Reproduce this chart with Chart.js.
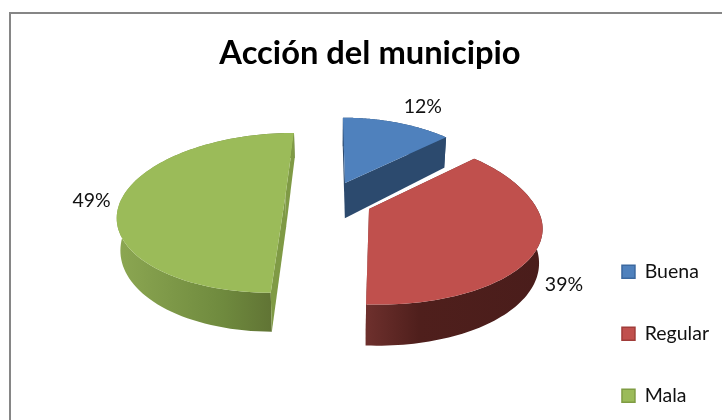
<!DOCTYPE html>
<html><head><meta charset="utf-8">
<style>html,body{margin:0;padding:0;background:#fff}canvas{display:block}</style>
<script src="https://cdn.jsdelivr.net/npm/chart.js@4"></script>
</head><body><canvas id="c" width="722" height="420"></canvas>
<script>
const categories = ["Buena", "Regular", "Mala"];
const values = [12.4, 38.5, 49.1];
const topColors = ["#4f81bd", "#c0504d", "#9bbb59"];
const edgeColors = ["#3b689f", "#a03c39", "#7f9c43"];

// perspective view of the tilted pie
const view = {x0:334, yh:-159, rX:.457};
const slices = [
  {X:.0322, q:.002924, rq:.00069, rqFront:.00066, da:0, db:.08, dy:1.103, cut:"#2c4a6e", wall:[["#2c4a6e",0],["#2c4a6e",1]]},
  {X:.0951, q:.002717, rq:.00066, rqFront:.00056, da:.08, db:0, dy:1.0886, cut:"#6a2e2b", wall:[["#6e302d",0],["#4f1f1c",.3],["#4a1d1b",1]]},
  {X:-.137, q:.002819, rq:.000606, rqFront:.000606, da:-.05, db:0, dy:1.086, cut:"#7f9a45", wall:[["#8ca752",0],["#6f8a3e",.6],["#5a6a30",1]]}
];
function proj(s, th, r, low){
  const cs = Math.cos(th);
  const X = s.X + r*view.rX*Math.sin(th), q = s.q + r*(cs>0?s.rq:s.rqFront)*cs;
  let x = view.x0 + X/q, y = view.yh + 1/q;
  if(low){ x = view.x0 + (x-view.x0)*.983; y = view.yh + (y-view.yh)*s.dy; }
  return [x,y];
}
function poly(ctx, pts, fill){
  ctx.beginPath(); pts.forEach((p,i)=> i?ctx.lineTo(p[0],p[1]):ctx.moveTo(p[0],p[1]));
  ctx.closePath(); ctx.fillStyle = fill; ctx.fill();
}
const labelPos = [
  (m,s)=>{const p=proj(s,m,1,false);return [p[0]+31,p[1]-15];},
  (m,s)=>{const p=proj(s,m,1,false);return [p[0]+24,p[1]+42];},
  (m,s)=>{const p=proj(s,m,1,false);return [p[0]-33,p[1]+7];}
];
const pie3d = {
  id:"pie3d",
  beforeDraw(chart){
    const c = chart.ctx; c.save();
    c.fillStyle="#868686";
    c.fillRect(9,12,2,408); c.fillRect(9,12,713,2); c.restore();
  },
  beforeDatasetsDraw(chart){
    const c = chart.ctx, meta = chart.getDatasetMeta(0);
    c.save();
    meta.data.forEach((arc,i)=>{
      const s = slices[i], a = arc.startAngle+Math.PI/2+s.da, b = arc.endAngle+Math.PI/2+s.db, N=90;
      const rim=[], lowRim=[];
      for(let k=0;k<=N;k++){const t=a+(b-a)*k/N; rim.push(proj(s,t,1,false)); lowRim.push(proj(s,t,1,true));}
      const tip=proj(s,0,0,false), tipL=proj(s,0,0,true);
      const xs=rim.map(p=>p[0]), g=c.createLinearGradient(Math.min(...xs),0,Math.max(...xs),0);
      s.wall.forEach(w=>g.addColorStop(w[1],w[0]));
      poly(c,rim.concat(lowRim.slice().reverse()),g);
      poly(c,[tip,rim[0],lowRim[0],tipL],s.cut);
      poly(c,[tip,rim[N],lowRim[N],tipL],s.cut);
      poly(c,[tip].concat(rim),topColors[i]);
      const mid=(arc.startAngle+arc.endAngle)/2+Math.PI/2, lp=labelPos[i](mid,s);
      c.fillStyle="#111"; c.font="19.5px Lato"; c.textAlign="center"; c.textBaseline="middle";
      c.fillText(Math.round(values[i])+"%",lp[0],lp[1]);
    });
    c.restore();
    return false;
  }
};
new Chart(document.getElementById("c"),{
  type:"pie",
  data:{labels:categories,datasets:[{data:values,backgroundColor:topColors,borderColor:edgeColors,borderWidth:1.5}]},
  plugins:[pie3d],
  options:{
    responsive:false,animation:false,
    layout:{padding:{left:21,right:3,bottom:-28}},
    plugins:{
      tooltip:{enabled:false},
      title:{display:true,text:"Acción del municipio",color:"#000",
        font:{family:"Lato",size:32.7,weight:"bold"},padding:{top:34,bottom:8}},
      legend:{position:"right",align:"end",
        labels:{boxWidth:13,boxHeight:13,padding:42.5,color:"#111",font:{family:"Lato",size:19.5}}}
    }
  }
});
</script></body></html>
